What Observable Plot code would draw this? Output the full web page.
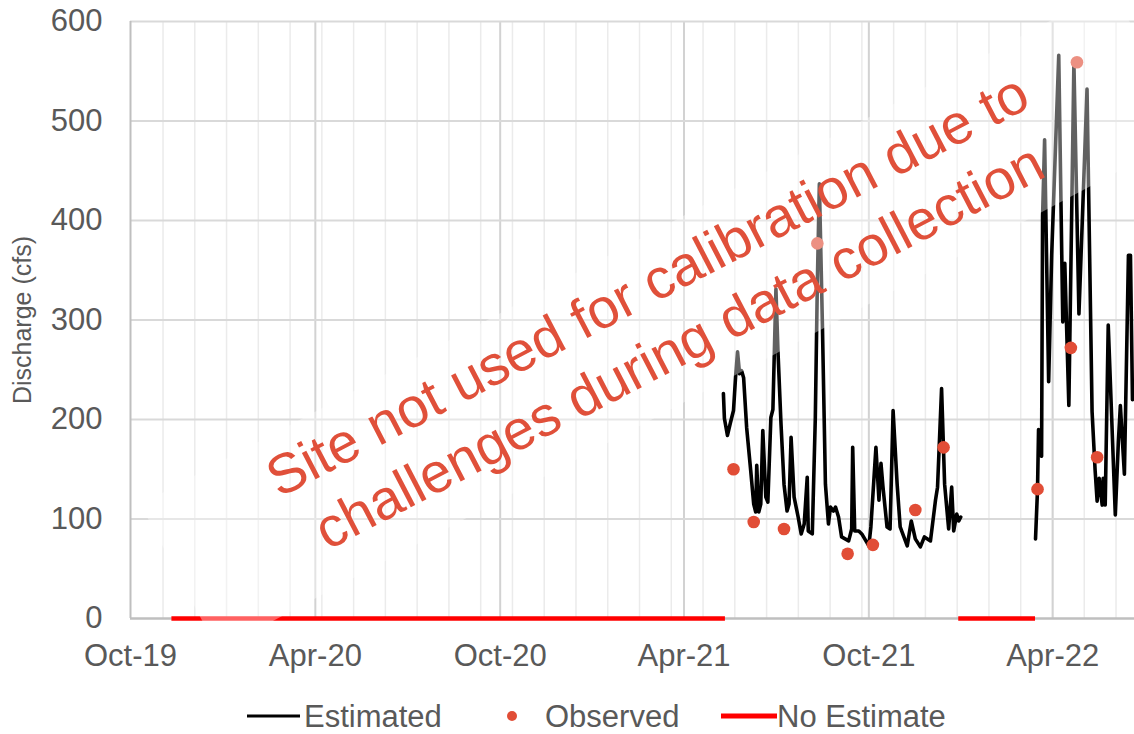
<!DOCTYPE html>
<html>
<head>
<meta charset="utf-8">
<script src="https://cdn.jsdelivr.net/npm/d3@7"></script>
<script src="https://cdn.jsdelivr.net/npm/@observablehq/plot@0.6"></script>
<style>
  body { margin: 0; background: #fff; }
  #chart { position: relative; width: 1134px; height: 734px; font-family: "Liberation Sans", Arial, sans-serif; }
</style>
</head>
<body>
<div id="chart"></div>
<script>
// ---- tick labels ----
const xTickDates = ["2019-10-01", "2020-04-01", "2020-10-01", "2021-04-01", "2021-10-01", "2022-04-01"];
const xTickLabels = ["Oct-19", "Apr-20", "Oct-20", "Apr-21", "Oct-21", "Apr-22"];
const yTicks = [0, 100, 200, 300, 400, 500, 600];

// ---- series: Estimated discharge (cfs); null marks the gap ----
const estimatedDates = [
  "2021-05-10", "2021-05-11", "2021-05-14", "2021-05-17", "2021-05-20", "2021-05-22", "2021-05-24", "2021-05-26",
  "2021-05-28", "2021-05-30", "2021-06-02", "2021-06-06", "2021-06-09", "2021-06-11", "2021-06-12", "2021-06-14",
  "2021-06-16", "2021-06-18", "2021-06-21", "2021-06-23", "2021-06-26", "2021-06-28", "2021-07-01", "2021-07-03",
  "2021-07-06", "2021-07-09", "2021-07-12", "2021-07-14", "2021-07-16", "2021-07-19", "2021-07-23", "2021-07-26",
  "2021-07-29", "2021-08-01", "2021-08-02", "2021-08-06", "2021-08-09", "2021-08-11", "2021-08-13", "2021-08-16",
  "2021-08-19", "2021-08-22", "2021-08-24", "2021-08-27", "2021-08-29", "2021-09-01", "2021-09-04", "2021-09-11",
  "2021-09-14", "2021-09-15", "2021-09-17", "2021-09-21", "2021-09-24", "2021-10-01", "2021-10-03", "2021-10-08",
  "2021-10-11", "2021-10-13", "2021-10-15", "2021-10-19", "2021-10-22", "2021-10-25", "2021-10-29", "2021-11-01",
  "2021-11-08", "2021-11-12", "2021-11-16", "2021-11-21", "2021-11-25", "2021-12-01", "2021-12-06", "2021-12-08",
  "2021-12-12", "2021-12-15", "2021-12-19", "2021-12-22", "2021-12-24", "2021-12-27", "2021-12-29", "2021-12-31",
  "2022-02-01",
  "2022-03-15", "2022-03-17", "2022-03-18", "2022-03-21", "2022-03-22", "2022-03-24", "2022-03-28", "2022-03-31",
  "2022-04-07", "2022-04-11", "2022-04-13", "2022-04-17", "2022-04-22", "2022-04-27", "2022-05-05", "2022-05-10",
  "2022-05-13", "2022-05-15", "2022-05-17", "2022-05-20", "2022-05-21", "2022-05-23", "2022-05-26", "2022-06-02",
  "2022-06-05", "2022-06-07", "2022-06-11", "2022-06-15", "2022-06-17", "2022-06-19"
];
const estimatedFlow = [
  226, 201, 184, 197, 209, 242, 268, 246,
  249, 242, 192, 149, 115, 107, 154, 107,
  115, 189, 122, 117, 202, 210, 331, 269,
  196, 135, 108, 115, 182, 122, 102, 85,
  95, 142, 88, 85, 202, 337, 437, 296,
  135, 95, 112, 108, 112, 102, 82, 78,
  90, 172, 88, 88, 85, 73, 92, 172,
  119, 156, 132, 92, 90, 209, 135, 92,
  73, 98, 80, 72, 82, 78, 119, 132,
  231, 135, 90, 132, 88, 105, 98, 102,
  null,
  80, 130, 190, 163, 404, 481, 238, 365,
  566, 298, 357, 214, 558, 306, 532, 208,
  149, 118, 141, 114, 141, 114, 295, 104,
  177, 214, 145, 365, 365, 220
];

// ---- series: Observed discharge (cfs) ----
const observedDates = [
  "2021-05-20", "2021-06-09", "2021-07-09", "2021-08-11", "2021-09-10", "2021-10-05",
  "2021-11-16", "2021-12-14", "2022-03-17", "2022-04-19", "2022-04-25", "2022-05-15"
];
const observedFlow = [150, 97, 90, 377, 65, 74, 109, 172, 130, 272, 559, 162];

// ---- series: No Estimate periods ----
const noEstimateStart = ["2019-11-11", "2021-12-29"];
const noEstimateEnd = ["2021-05-12", "2022-03-15"];

const seriesNames = ["Estimated", "Observed", "No Estimate"];
const annotationLines = ["Site not used for calibration due to", "challenges during data collection"];
const annotationDate = "2021-03-10";
const annotationValue = 307;

// ---- build ----
const parse = s => new Date(s + "T00:00:00Z");
const xDomain = [parse("2019-10-01"), parse("2022-06-21")];
const estimated = estimatedDates.map((d, i) => ({date: parse(d), flow: estimatedFlow[i]}));
const observed = observedDates.map((d, i) => ({date: parse(d), flow: observedFlow[i]}));
const noEstimate = noEstimateStart.map((d, i) => ({start: parse(d), end: parse(noEstimateEnd[i])}));
const majorDates = xTickDates.map(parse);
const labelOf = new Map(majorDates.map((d, i) => [+d, xTickLabels[i]]));
// light minor gridlines (Excel minor unit)
const minorGrid = d3.range(0, 40)
  .map(k => new Date(+xDomain[0] + (32.2 + 31.45 * k) * 864e5))
  .filter(d => d < xDomain[1]);

const FONT = "'Liberation Sans', Arial, sans-serif";
const TEXT = "#595959";
const RED = "#ff0000";
const ORANGE = "#E0503A";

// translucent white box behind the annotation (as in the original text box)
const annotationBox = (index, scales) => {
  const ax = scales.x(parse(annotationDate));
  const ay = scales.y(annotationValue);
  const g = d3.create("svg:g");
  g.append("rect")
    .attr("x", -550).attr("y", -75).attr("width", 1100).attr("height", 165)
    .attr("transform", `translate(${ax},${ay}) rotate(-28)`)
    .attr("fill", "#fff").attr("fill-opacity", 0.38);
  return g.node();
};

const plot = Plot.plot({
  width: 1134,
  height: 675,
  marginLeft: 130,
  marginRight: 0,
  marginTop: 21,
  marginBottom: 57,
  style: {fontFamily: FONT, fontSize: "31px", color: TEXT, background: "#fff", overflow: "visible"},
  x: {type: "utc", domain: xDomain},
  y: {domain: [0, 600]},
  marks: [
    Plot.ruleX(minorGrid, {stroke: "#ebebeb", strokeWidth: 1.5}),
    Plot.ruleX(majorDates.slice(1), {stroke: "#d2d2d2", strokeWidth: 2}),
    Plot.ruleY(yTicks.filter(d => d > 0), {stroke: "#d9d9d9", strokeWidth: 2}),
    Plot.ruleX([xDomain[0]], {stroke: "#bfbfbf", strokeWidth: 2}),
    Plot.ruleY([0], {stroke: "#bfbfbf", strokeWidth: 2.5}),
    Plot.axisY({ticks: yTicks, tickSize: 0, tickPadding: 28, label: null, fontSize: 31}),
    Plot.axisX({ticks: majorDates, tickFormat: d => labelOf.get(+d), tickSize: 0, tickPadding: 25, label: null, fontSize: 31}),
    Plot.text(["Discharge (cfs)"], {frameAnchor: "left", textAnchor: "middle", rotate: -90, dx: -108, fontSize: 25, fill: TEXT}),
    Plot.ruleY(noEstimate, {y: 0, x1: "start", x2: "end", stroke: RED, strokeWidth: 4.5}),
    Plot.lineY(estimated, {x: "date", y: "flow", stroke: "#000", strokeWidth: 3.6, strokeLinejoin: "round"}),
    Plot.dot(observed, {x: "date", y: "flow", r: 6.3, fill: "#E14D36", stroke: "none"}),
    annotationBox,
    Plot.text([annotationLines.join("\n")], {
      x: () => parse(annotationDate), y: () => annotationValue,
      rotate: -27.5, fontSize: 56, lineHeight: 1.23, fill: ORANGE,
      textAnchor: "middle", lineAnchor: "middle", fontFamily: FONT
    })
  ]
});

const chart = document.getElementById("chart");
chart.appendChild(plot);

// ---- legend below the plot ----
const legend = d3.select(chart).append("svg")
  .attr("width", 1134).attr("height", 59)
  .style("display", "block")
  .style("font-family", FONT);
const legendSpec = [
  {name: seriesNames[0], kind: "line", color: "#000", width: 3, x0: 247, x1: 300, tx: 304},
  {name: seriesNames[1], kind: "dot", color: "#E14D36", x0: 512, tx: 545},
  {name: seriesNames[2], kind: "line", color: RED, width: 5, x0: 721, x1: 777, tx: 777}
];
for (const s of legendSpec) {
  if (s.kind === "line") {
    legend.append("line").attr("x1", s.x0).attr("x2", s.x1).attr("y1", 41).attr("y2", 41)
      .attr("stroke", s.color).attr("stroke-width", s.width);
  } else {
    legend.append("circle").attr("cx", s.x0).attr("cy", 41).attr("r", 5).attr("fill", s.color);
  }
  legend.append("text").attr("x", s.tx).attr("y", 52).attr("fill", TEXT)
    .attr("font-size", 31).text(s.name);
}
</script>
</body>
</html>
